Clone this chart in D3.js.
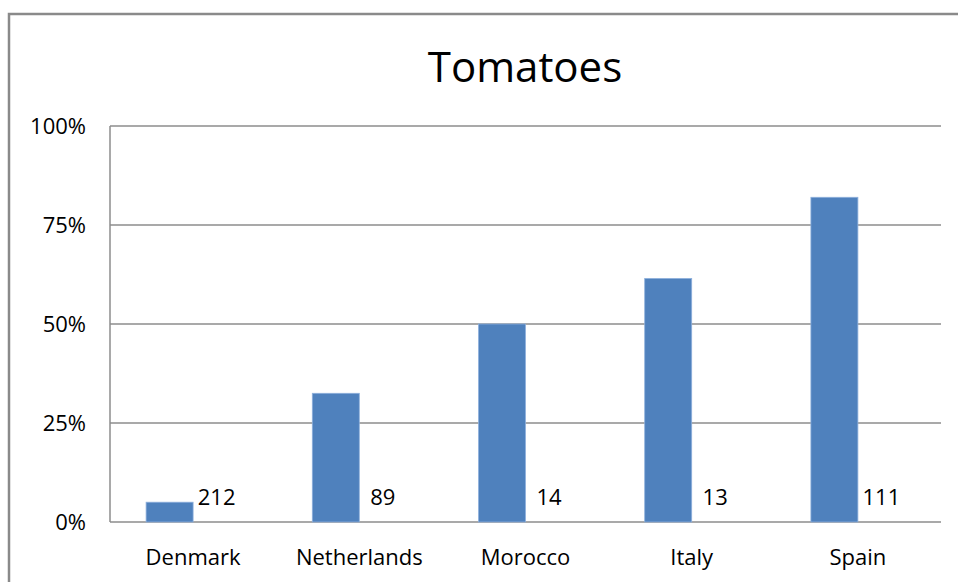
<!DOCTYPE html>
<html>
<head>
<meta charset="utf-8">
<script src="https://cdn.jsdelivr.net/npm/d3@7"></script>
<style>
  body { margin: 0; background: #fff; }
  text { font-family: "Open Sans", "Liberation Sans", sans-serif; fill: #000; }
</style>
</head>
<body>
<script>
//Chart data
var countries = ["Denmark", "Netherlands", "Morocco", "Italy", "Spain"];
var shares = [0.05, 0.325, 0.50, 0.615, 0.82];
var counts = ["212", "89", "14", "13", "111"];
var yTicks = [0, 0.25, 0.5, 0.75, 1];

//Width and height
var w = 958;
var h = 582;

//Plot area
var plotLeft = 110, plotRight = 941, plotTop = 126, plotBottom = 522;

var svg = d3.select("body")
            .append("svg")
            .attr("width", w)
            .attr("height", h);

//Outer frame (runs off the right and bottom edge)
svg.append("rect")
   .attr("x", 9)
   .attr("y", 14)
   .attr("width", w + 20)
   .attr("height", h + 20)
   .attr("fill", "none")
   .attr("stroke", "#8a8a8a")
   .attr("stroke-width", 2.5);

//Scales
var x = d3.scaleBand()
          .domain(countries)
          .range([plotLeft, plotRight]);

var y = d3.scaleLinear()
          .domain([0, 1])
          .range([plotBottom, plotTop]);

var barW = 47;

//Gridlines
svg.selectAll("line.grid")
   .data(yTicks)
   .enter()
   .append("line")
   .attr("class", "grid")
   .attr("x1", plotLeft)
   .attr("x2", plotRight)
   .attr("y1", function(d) { return y(d); })
   .attr("y2", function(d) { return y(d); })
   .attr("stroke", "#8c8c8c")
   .attr("stroke-width", 1.5);

//Y axis line
svg.append("line")
   .attr("x1", plotLeft)
   .attr("x2", plotLeft)
   .attr("y1", plotTop)
   .attr("y2", plotBottom)
   .attr("stroke", "#8c8c8c")
   .attr("stroke-width", 1.5);

//Y tick labels
svg.selectAll("text.ytick")
   .data(yTicks)
   .enter()
   .append("text")
   .attr("class", "ytick")
   .attr("x", 86)
   .attr("y", function(d) { return y(d) + 8; })
   .attr("text-anchor", "end")
   .attr("font-size", 22)
   .text(function(d) { return d3.format(".0%")(d); });

//Bars
svg.selectAll("rect.bar")
   .data(countries)
   .enter()
   .append("rect")
   .attr("class", "bar")
   .attr("x", function(d) { return x(d) + x.bandwidth() / 2 - barW; })
   .attr("width", barW)
   .attr("y", function(d, i) { return y(shares[i]); })
   .attr("height", function(d, i) { return plotBottom - y(shares[i]); })
   .attr("fill", "#4f81bd")
   .attr("stroke", "#8eb0dc")
   .attr("stroke-width", 0.8);

//Count labels (second, empty series)
svg.selectAll("text.count")
   .data(countries)
   .enter()
   .append("text")
   .attr("class", "count")
   .attr("x", function(d) { return x(d) + x.bandwidth() / 2 + barW / 2; })
   .attr("y", plotBottom - 17)
   .attr("text-anchor", "middle")
   .attr("font-size", 22)
   .text(function(d, i) { return counts[i]; });

//Category labels
svg.selectAll("text.cat")
   .data(countries)
   .enter()
   .append("text")
   .attr("class", "cat")
   .attr("x", function(d) { return x(d) + x.bandwidth() / 2; })
   .attr("y", 565)
   .attr("text-anchor", "middle")
   .attr("font-size", 22)
   .text(function(d) { return d; });

//Title
svg.append("text")
   .attr("x", 525)
   .attr("y", 82)
   .attr("text-anchor", "middle")
   .attr("font-size", 42)
   .text("Tomatoes");
</script>
</body>
</html>
